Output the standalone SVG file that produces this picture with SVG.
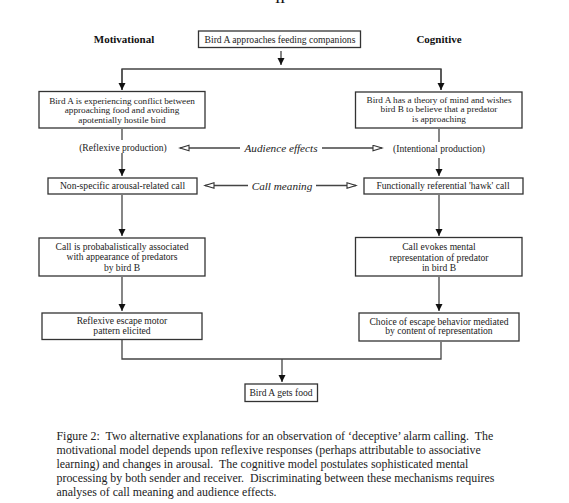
<svg xmlns="http://www.w3.org/2000/svg" width="569" height="503" viewBox="0 0 569 503">
<style>
.box{fill:#fff;stroke:#333;stroke-width:1.3}
.t{font-family:"Liberation Serif","Times New Roman",serif;font-size:9.6px;fill:#222;text-anchor:middle}
.s{font-size:9.2px}
.h{font-family:"Liberation Serif","Times New Roman",serif;font-size:11px;font-weight:bold;fill:#111;text-anchor:middle}
.i{font-family:"Liberation Serif","Times New Roman",serif;font-size:11.2px;font-style:italic;fill:#222;text-anchor:middle}
.cap{font-family:"Liberation Serif","Times New Roman",serif;font-size:11.9px;fill:#222;white-space:pre}
.ln{fill:none;stroke:#444;stroke-width:1.3}
</style>
<defs>
<marker id="ah" markerUnits="userSpaceOnUse" markerWidth="7" markerHeight="9" refX="7" refY="3.5" orient="auto">
<path d="M0,0 L7,3.5 L0,7 z" fill="#111"/>
</marker>
<marker id="oh" markerUnits="userSpaceOnUse" markerWidth="12" markerHeight="8" refX="10" refY="3.5" orient="auto">
<path d="M1,0.8 L10,3.5 L1,6.2 z" fill="#fff" stroke="#333" stroke-width="1.1"/>
</marker>
</defs>

<text class="h" x="280" y="2.5">11</text>
<text class="h" x="124" y="43">Motivational</text>
<text class="h" x="439" y="43">Cognitive</text>

<g id="connectors">
<line class="ln" x1="281" y1="51" x2="281" y2="65" marker-end="url(#ah)"/>
<polyline class="ln" points="122,90 122,69 441,69 441,90"/>
<line class="ln" x1="122" y1="69" x2="122" y2="90" marker-end="url(#ah)"/>
<line class="ln" x1="441" y1="69" x2="441" y2="90" marker-end="url(#ah)"/>
<line class="ln" x1="122" y1="129" x2="122" y2="140"/>
<line class="ln" x1="122" y1="153" x2="122" y2="176" marker-end="url(#ah)"/>
<line class="ln" x1="439" y1="129" x2="439" y2="142"/>
<line class="ln" x1="439" y1="158" x2="439" y2="176" marker-end="url(#ah)"/>
<line class="ln" x1="240" y1="148" x2="180" y2="148" marker-end="url(#oh)"/>
<line class="ln" x1="322" y1="148" x2="382" y2="148" marker-end="url(#oh)"/>
<line class="ln" x1="248" y1="185.5" x2="205" y2="185.5" marker-end="url(#oh)"/>
<line class="ln" x1="316" y1="185.5" x2="356" y2="185.5" marker-end="url(#oh)"/>
<line class="ln" x1="122" y1="195" x2="122" y2="236" marker-end="url(#ah)"/>
<line class="ln" x1="439" y1="195" x2="439" y2="236" marker-end="url(#ah)"/>
<line class="ln" x1="122" y1="277" x2="122" y2="311" marker-end="url(#ah)"/>
<line class="ln" x1="439" y1="277" x2="439" y2="311" marker-end="url(#ah)"/>
<polyline class="ln" points="122,340 122,359 441,359 441,342"/>
<line class="ln" x1="282" y1="359" x2="282" y2="382" marker-end="url(#ah)"/>
</g>

<g id="labels">
<text class="t" x="123" y="150.5">(Reflexive production)</text>
<text class="t" x="439" y="152">(Intentional production)</text>
<text class="i" x="281" y="152">Audience effects</text>
<text class="i" x="282" y="189.5">Call meaning</text>
</g>

<g id="n-start">
<rect class="box" x="198.5" y="31" width="162" height="16.5"/>
<text class="t" x="280" y="43">Bird A approaches feeding companions</text>
</g>
<g id="n-m1">
<rect class="box" x="39" y="91.5" width="166" height="36.5"/>
<text class="t s" x="122" y="103.5">Bird A is experiencing conflict between</text>
<text class="t s" x="122" y="113">approaching food and avoiding</text>
<text class="t s" x="122" y="122.5">apotentially hostile bird</text>
</g>
<g id="n-c1">
<rect class="box" x="355.5" y="92" width="166.5" height="36"/>
<text class="t s" x="439" y="102.5">Bird A has a theory of mind and wishes</text>
<text class="t s" x="439" y="112.3">bird B to believe that a predator</text>
<text class="t s" x="439" y="122">is approaching</text>
</g>
<g id="n-m2">
<rect class="box" x="48" y="178" width="149" height="16"/>
<text class="t" x="122.5" y="189">Non-specific arousal-related call</text>
</g>
<g id="n-c2">
<rect class="box" x="364" y="178" width="159" height="16"/>
<text class="t" x="443" y="189">Functionally referential 'hawk' call</text>
</g>
<g id="n-m3">
<rect class="box" x="39" y="238" width="166" height="38"/>
<text class="t" x="122" y="249.5">Call is probabalistically associated</text>
<text class="t" x="122" y="260">with appearance of predators</text>
<text class="t" x="122" y="270.5">by bird B</text>
</g>
<g id="n-c3">
<rect class="box" x="355.5" y="237.5" width="166.5" height="38.5"/>
<text class="t" x="439" y="250">Call evokes mental</text>
<text class="t" x="439" y="260.5">representation of predator</text>
<text class="t" x="439" y="270.5">in bird B</text>
</g>
<g id="n-m4">
<rect class="box" x="42" y="313" width="160" height="26.5"/>
<text class="t" x="122" y="323.5">Reflexive escape motor</text>
<text class="t" x="122" y="333.5">pattern elicited</text>
</g>
<g id="n-c4">
<rect class="box" x="359" y="313" width="160" height="28"/>
<text class="t" x="439" y="324.5">Choice of escape behavior mediated</text>
<text class="t" x="439" y="334">by content of representation</text>
</g>
<g id="n-end">
<rect class="box" x="245" y="384" width="72.5" height="17.5"/>
<text class="t" x="281" y="396">Bird A gets food</text>
</g>

<g id="caption" xml:space="preserve">
<text class="cap" x="56.5" y="440">Figure 2:  Two alternative explanations for an observation of ‘deceptive’ alarm calling.  The</text>
<text class="cap" x="56.5" y="454">motivational model depends upon reflexive responses (perhaps attributable to associative</text>
<text class="cap" x="56.5" y="468">learning) and changes in arousal.  The cognitive model postulates sophisticated mental</text>
<text class="cap" x="56.5" y="482">processing by both sender and receiver.  Discriminating between these mechanisms requires</text>
<text class="cap" x="56.5" y="496">analyses of call meaning and audience effects.</text>
</g>
</svg>
